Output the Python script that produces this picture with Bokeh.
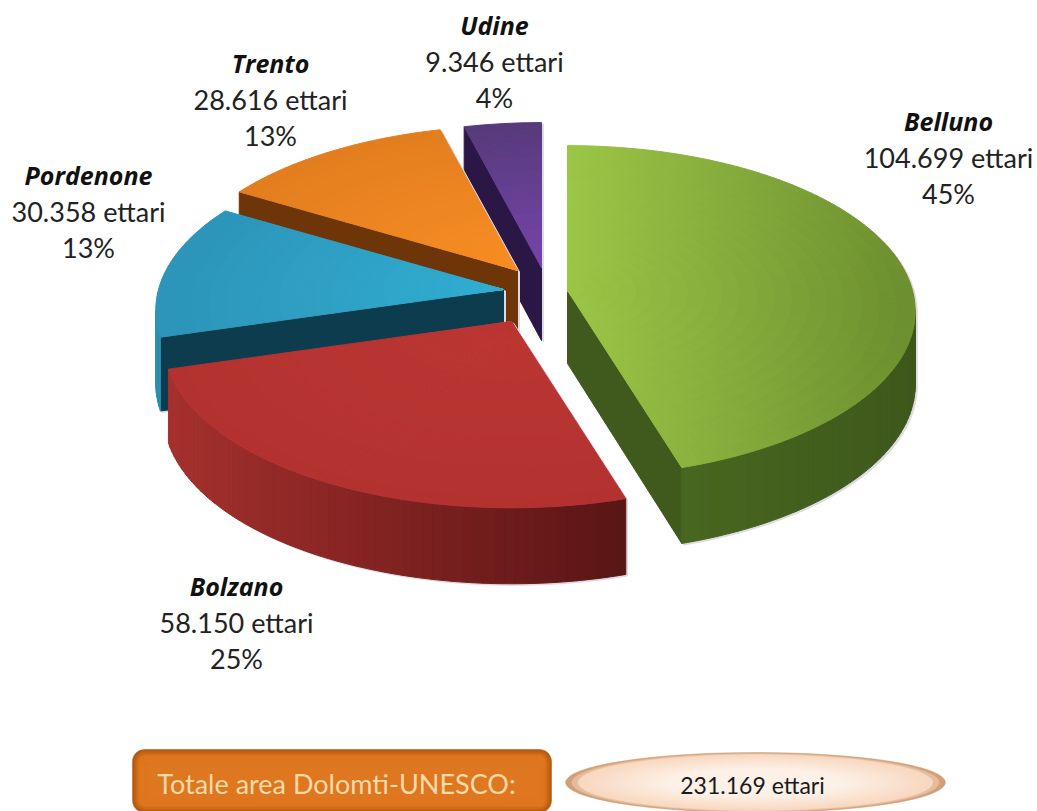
import math
import numpy as np
from bokeh.embed import file_html
from bokeh.models import ColumnDataSource, Range1d
from bokeh.plotting import figure
from bokeh.resources import INLINE
from bokeh.core.properties import value

# Hectares of the Dolomites UNESCO area by province, clockwise from twelve o'clock
provinces = ["Belluno", "Bolzano", "Pordenone", "Trento", "Udine"]
hectares = [104699, 58150, 30358, 28616, 9346]
percent_labels = ["45%", "25%", "13%", "13%", "4%"]
total_label = "Totale area Dolomti-UNESCO:"
total_value = "231.169 ettari"

# Pie projection
RX, RY, PERSP = 345.0, 163.0, 0.125
tips = {"Belluno": (567, 290), "Bolzano": (511, 321), "Pordenone": (503, 289),
        "Trento": (517, 270), "Udine": (541, 267)}
label_xy = {"Belluno": (948, 120), "Bolzano": (236, 585), "Pordenone": (88, 174),
            "Trento": (270, 62), "Udine": (494, 24)}
LINE_GAP = 36.5

# top colours (near, far), shading axis, side colours (right end, left end), cut face colour
styles = {
    "Belluno": dict(top=("#9cc646", "#6c8e2f"), axis="x", wall=("#3e581b", "#4e6e23"), cut="#3f5a1c"),
    "Bolzano": dict(top=("#bb3633", "#b33230"), axis="r", wall=("#5a1515", "#a5302d"), cut="#5a1515"),
    "Pordenone": dict(top=("#30aed2", "#2c94b8"), axis="r", wall=("#1f6e8c", "#2d8fb2"), cut="#0e3c4f"),
    "Trento": dict(top=("#f98d22", "#e27e1f"), axis="r", wall=("#6e3508", "#6e3508"), cut="#6e3508"),
    "Udine": dict(top=("#7544a8", "#563a7a"), axis="r", wall=("#2a1745", "#2a1745"), cut="#2a1745"),
}


def hex_rgb(c):
    return np.array([int(c[i:i + 2], 16) for i in (1, 3, 5)], float)


def mix(a, b, t):
    t = min(max(t, 0.0), 1.0)
    m = hex_rgb(a) * (1 - t) + hex_rgb(b) * t
    return "#%02x%02x%02x" % tuple(int(round(v)) for v in m)


def project(tip, theta, r):
    u, v = math.sin(theta) * r, math.cos(theta) * r
    w = 1 + PERSP * v
    return tip[0] + RX * u / w, tip[1] - RY * v / w


def drop(theta, r=1.0):
    return 73 - 3 * math.cos(theta) * r


def convex_hull(points):
    pts = sorted(set(points))

    def half(seq):
        out = []
        for q in seq:
            while len(out) > 1 and ((out[-1][0] - out[-2][0]) * (q[1] - out[-2][1])
                                    - (out[-1][1] - out[-2][1]) * (q[0] - out[-2][0])) <= 0:
                out.pop()
            out.append(q)
        return out[:-1]

    return half(pts) + half(pts[::-1])


quad_x, quad_y, quad_c = [], [], []


def add(xs, ys, color):
    quad_x.append(list(xs))
    quad_y.append(list(ys))
    quad_c.append(color)


total = sum(hectares)
starts = np.cumsum([0] + hectares[:-1]) / total * 2 * math.pi
spans = np.array(hectares) / total * 2 * math.pi
slices = list(zip(provinces, starts, spans))

# Back slices are painted first so nearer ones overlap them
for name, start, span in reversed(slices):
    tip = tips[name]
    st = styles[name]
    n_arc = max(6, int(math.degrees(span) / 1.5))
    thetas = [start + span * i / n_arc for i in range(n_arc + 1)]
    rim = [project(tip, t, 1.0) for t in thetas]
    rim_low = [(x, y + drop(t)) for (x, y), t in zip(rim, thetas)]

    # soft contact shadow under the solid
    hull = convex_hull(rim + rim_low + [tip, (tip[0], tip[1] + 73)])
    add([p[0] + 2 for p in hull], [p[1] + 1.5 for p in hull], "#dedae3")

    # cut faces turned towards the viewer
    if rim[0][0] < tip[0] - 1:
        add([tip[0], rim[0][0], rim_low[0][0], tip[0]],
            [tip[1], rim[0][1], rim_low[0][1], tip[1] + 73], st["cut"])
    if rim[-1][0] > tip[0] + 1:
        add([tip[0], rim[-1][0], rim_low[-1][0], tip[0]],
            [tip[1], rim[-1][1], rim_low[-1][1], tip[1] + 73], st["cut"])

    # outer wall, only where the rim runs leftwards on screen
    x_lo, x_hi = min(p[0] for p in rim), max(p[0] for p in rim)
    for i in range(n_arc):
        if rim[i + 1][0] < rim[i][0]:
            t = (x_hi - rim[i][0]) / max(x_hi - x_lo, 1)
            add([rim[i][0], rim[i + 1][0], rim_low[i + 1][0], rim_low[i][0]],
                [rim[i][1], rim[i + 1][1], rim_low[i + 1][1], rim_low[i][1]],
                mix(st["wall"][0], st["wall"][1], t))

    # top surface as a polar grid of shaded cells
    n_rad = 20
    for a in range(n_arc):
        for b in range(n_rad):
            r0, r1 = b / n_rad, (b + 1) / n_rad
            t0, t1 = thetas[a], thetas[a + 1]
            corners = [project(tip, t0, r0), project(tip, t0, r1),
                       project(tip, t1, r1), project(tip, t1, r0)]
            cx = sum(c[0] for c in corners) / 4
            if st["axis"] == "x":
                shade = abs(cx - tip[0]) / RX
            else:
                shade = (r0 + r1) / 2
            add([c[0] for c in corners], [c[1] for c in corners],
                mix(st["top"][0], st["top"][1], shade))

p = figure(width=1037, height=811, output_backend="svg", toolbar_location=None,
           x_range=Range1d(0, 1037), y_range=Range1d(811, 0),
           x_axis_location=None, y_axis_location=None, min_border=0,
           outline_line_color=None, background_fill_color="white", border_fill_color="white")
p.grid.visible = False

p.patches("x", "y", source=ColumnDataSource(dict(x=quad_x, y=quad_y, c=quad_c)),
          fill_color="c", line_color="c", line_width=1)

# Province captions
BODY_FONT = value("Lato")
NAME_FONT = value("Open Sans")
for name, ha, pct in zip(provinces, hectares, percent_labels):
    lx, ly = label_xy[name]
    p.text([lx], [ly], text=[name], text_font=NAME_FONT, text_font_style="bold italic",
           text_font_size="25px", text_align="center", text_baseline="middle", text_color="#111111")
    amount = f"{ha:,}".replace(",", ".") + " ettari"
    p.text([lx], [ly + LINE_GAP], text=[amount], text_font=BODY_FONT, text_font_size="27px",
           text_align="center", text_baseline="middle", text_color="#222222")
    p.text([lx], [ly + 2 * LINE_GAP], text=[pct], text_font=BODY_FONT, text_font_size="27px",
           text_align="center", text_baseline="middle", text_color="#222222")


def rounded_rect(x0, y0, x1, y1, rad):
    xs, ys = [], []
    corners = [(x1 - rad, y0 + rad, -90), (x1 - rad, y1 - rad, 0), (x0 + rad, y1 - rad, 90), (x0 + rad, y0 + rad, 180)]
    for cx, cy, a0 in corners:
        for k in range(7):
            a = math.radians(a0 + 15 * k)
            xs.append(cx + rad * math.cos(a))
            ys.append(cy + rad * math.sin(a))
    return xs, ys


# Total banner: bevelled box and pale ellipse built from nested shapes
box_x, box_y, box_c = [], [], []
for k in range(14):
    xs, ys = rounded_rect(132 + k * 1.1, 749 + k * 1.1, 551 - k * 1.1, 812 - k * 1.1, max(12 - k, 3))
    box_x.append(xs)
    box_y.append(ys)
    box_c.append(mix("#b4570f", "#df7720", k / 6))
p.patches(box_x, box_y, fill_color=box_c, line_color=box_c, line_width=0.5)

n_ring = 30
scales = [1 - k / n_ring for k in range(n_ring)]
ell = ColumnDataSource(dict(
    x=[755.0] * n_ring,
    y=[782.0] * n_ring,
    w=[380 * s for s in scales],
    h=[60 * s for s in scales],
    c=[mix("#d2a078", "#f8d8c0", k / 2) if k < 3 else mix("#f8d8c0", "#fdf0e6", (k - 2) / 14) for k in range(n_ring)],
))
p.ellipse("x", "y", width="w", height="h", source=ell, fill_color="c", line_color="c", line_width=0.5)

p.text([336], [783], text=[total_label], text_font=BODY_FONT, text_font_size="27px",
       text_align="center", text_baseline="middle", text_color="#f6dba8")
p.text([752], [784], text=[total_value], text_font=BODY_FONT, text_font_size="23px",
       text_align="center", text_baseline="middle", text_color="#1a1a1a")

open("out.html", "w").write(file_html(p, INLINE))
